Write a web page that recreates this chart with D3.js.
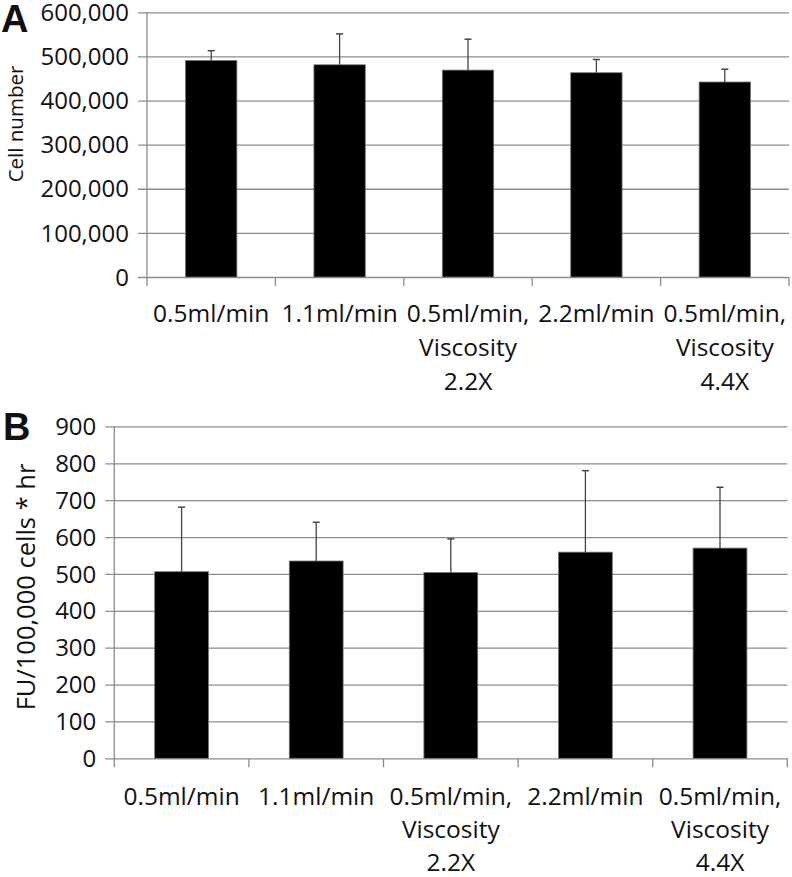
<!DOCTYPE html>
<html>
<head>
<meta charset="utf-8">
<script src="https://cdn.jsdelivr.net/npm/d3@7"></script>
<style>
  html, body { margin: 0; padding: 0; background: #fff; }
  svg { display: block; }
  text { font-family: "Open Sans", "Noto Sans", sans-serif; fill: #111; }
</style>
</head>
<body>
<script>
// ---- Data ----
const categories = ["0.5ml/min", "1.1ml/min", "0.5ml/min,|Viscosity|2.2X", "2.2ml/min", "0.5ml/min,|Viscosity|4.4X"];
const cellNumber = [491000, 481000, 469000, 463000, 442000];
const cellNumberErr = [22000, 70000, 70000, 30000, 29000];
const fuValues = [506, 535, 504, 559, 570];
const fuErr = [175, 105, 91, 221, 165];
const ticksA = [0, 100000, 200000, 300000, 400000, 500000, 600000];
const ticksB = [0, 100, 200, 300, 400, 500, 600, 700, 800, 900];

const W = 792, H = 877;
const svg = d3.select("body").append("svg").attr("width", W).attr("height", H);

function panel(opts) {
  const g = svg.append("g");
  const x = d3.scaleBand().domain(categories.map((c, i) => i))
    .range([opts.left, opts.right]).paddingInner(0.6).paddingOuter(0.3);
  const y = d3.scaleLinear().domain([0, opts.max]).range([opts.bottom, opts.top]);
  const step = x.step();

  // gridlines + y tick labels
  const ax = g.append("g").attr("transform", `translate(${opts.left},0)`)
    .call(d3.axisLeft(y).tickValues(opts.ticks).tickSize(-(opts.right - opts.left)).tickFormat(d3.format(",")));
  ax.select(".domain").remove();
  ax.selectAll(".tick line").attr("x1", -9).attr("stroke", "#8c8c8c").attr("stroke-width", 1.3);
  ax.selectAll(".tick text").attr("x", -18).attr("dy", "0.34em")
    .style("font-size", opts.tickFont + "px").style("font-family", '"Open Sans", sans-serif').attr("fill", "#111");

  // y axis line
  g.append("line").attr("x1", opts.left).attr("x2", opts.left)
    .attr("y1", y(opts.max)).attr("y2", y(0) + 9)
    .attr("stroke", "#8c8c8c").attr("stroke-width", 1.3);

  // x category boundary ticks
  const bounds = d3.range(categories.length + 1).map(i => opts.left + i * step);
  g.selectAll(".xt").data(bounds.slice(1)).join("line")
    .attr("x1", d => d).attr("x2", d => d)
    .attr("y1", y(0)).attr("y2", y(0) + 9)
    .attr("stroke", "#8c8c8c").attr("stroke-width", 1.3);

  // bars
  g.selectAll(".bar").data(opts.values).join("rect")
    .attr("x", (d, i) => x(i)).attr("width", x.bandwidth())
    .attr("y", d => y(d)).attr("height", d => y(0) - y(d))
    .attr("fill", "#000").attr("stroke", "#777").attr("stroke-width", 0.8);

  // error bars (plus only)
  const eb = g.selectAll(".eb").data(opts.values).join("g");
  eb.append("line")
    .attr("x1", (d, i) => x(i) + x.bandwidth() / 2).attr("x2", (d, i) => x(i) + x.bandwidth() / 2)
    .attr("y1", d => y(d)).attr("y2", (d, i) => y(d + opts.errs[i]))
    .attr("stroke", "#444").attr("stroke-width", 1.3);
  eb.append("line")
    .attr("x1", (d, i) => x(i) + x.bandwidth() / 2 - 3.5).attr("x2", (d, i) => x(i) + x.bandwidth() / 2 + 3.5)
    .attr("y1", (d, i) => y(d + opts.errs[i])).attr("y2", (d, i) => y(d + opts.errs[i]))
    .attr("stroke", "#444").attr("stroke-width", 1.5);

  // category labels
  const lbl = g.selectAll(".cl").data(categories).join("text")
    .attr("text-anchor", "middle")
    .attr("x", (d, i) => x(i) + x.bandwidth() / 2)
    .attr("y", y(0) + opts.labelOffset)
    .style("font-size", opts.catFont + "px");
  lbl.each(function(d, i) {
    const t = d3.select(this);
    d.split("|").forEach((line, k) => {
      t.append("tspan").attr("x", x(i) + x.bandwidth() / 2).attr("dy", k === 0 ? 0 : opts.lineH).text(line);
    });
  });

  // y title
  g.append("text").attr("text-anchor", "middle")
    .attr("transform", `translate(${opts.titleX},${opts.titleY}) rotate(-90)`)
    .style("font-size", opts.titleFont + "px").text(opts.title);

  // panel letter
  g.append("text").attr("x", opts.letterX).attr("y", opts.letterY)
    .style("font-family", '"Liberation Sans", Arial, sans-serif').style("font-weight", "bold")
    .style("font-size", "38px").attr("fill", "#000").text(opts.letter);
}

panel({
  left: 147, right: 789, top: 12.3, bottom: 277, max: 600000, ticks: ticksA,
  values: cellNumber, errs: cellNumberErr, tickFont: 24, catFont: 24.5, lineH: 34,
  labelOffset: 45, title: "Cell number", titleX: 23, titleY: 124, titleFont: 20.5,
  letter: "A", letterX: 1, letterY: 31.5
});

panel({
  left: 114.3, right: 787.3, top: 426.4, bottom: 758.3, max: 900, ticks: ticksB,
  values: fuValues, errs: fuErr, tickFont: 24, catFont: 24.5, lineH: 33,
  labelOffset: 47, title: "FU/100,000 cells * hr", titleX: 35, titleY: 587, titleFont: 25.5,
  letter: "B", letterX: 3, letterY: 440
});
</script>
</body>
</html>
